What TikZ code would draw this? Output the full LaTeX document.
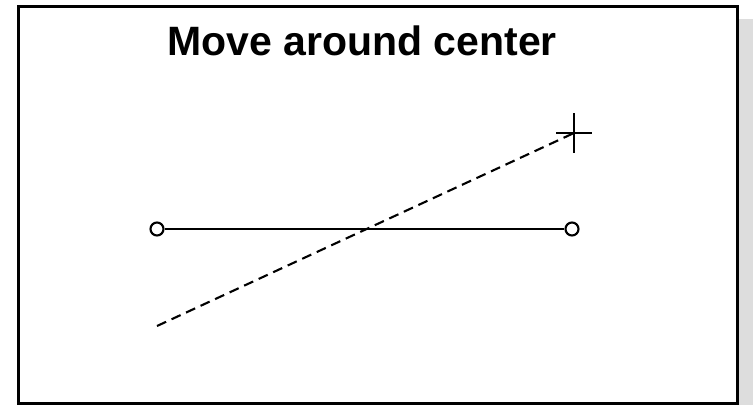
\documentclass[tikz,border=0pt]{standalone}
\usepackage{fontspec}
\setmainfont{Liberation Sans}

\begin{document}
\begin{tikzpicture}[x=1pt, y=-1pt, line width=2.1pt,
    endpt/.style={circle, draw, fill=white, inner sep=0pt, minimum size=13pt}]
    \useasboundingbox (0,0) rectangle (753,405);

    % shadow and frame
    \fill[gray!27] (738,19) rectangle (753,405);
    \draw[line width=3pt, fill=white] (18,6) rectangle (737,403);

    \node[font=\bfseries\fontsize{41}{44}\selectfont, anchor=base] (title) at (362,55) {Move around center};

    \node[endpt] (p1) at (157,229) {};
    \node[endpt] (p2) at (572,229) {};
    \draw (p1) -- (p2);

    % rotated copy, with its center marked by a cross
    \coordinate (q1) at (157,326);
    \coordinate (q2) at (574,133);
    \draw[dash pattern=on 10pt off 6pt] (q1) -- (q2);
    \draw (q2) ++(-18,0) -- ++(36,0);
    \draw (q2) ++(0,-20) -- ++(0,40);
\end{tikzpicture}
\end{document}
